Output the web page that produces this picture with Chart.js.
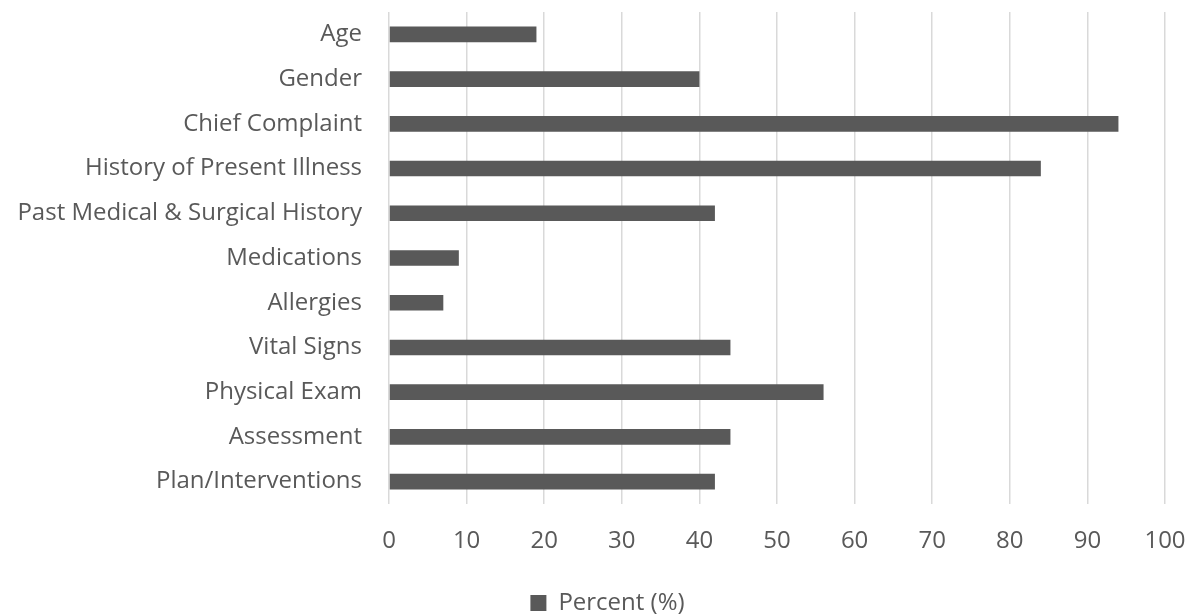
<!DOCTYPE html>
<html>
<head>
<meta charset="utf-8">
<script src="https://cdn.jsdelivr.net/npm/chart.js@4/dist/chart.umd.min.js"></script>
<style>
  html, body { margin: 0; padding: 0; background: #ffffff; overflow: hidden; }
  #wrap { width: 1192px; height: 616px; position: relative; }
</style>
</head>
<body>
<div id="wrap"><canvas id="chart" width="1192" height="616"></canvas></div>
<script>
// Documentation elements and the share of notes that included each one
const categories = [
  "Age",
  "Gender",
  "Chief Complaint",
  "History of Present Illness",
  "Past Medical & Surgical History",
  "Medications",
  "Allergies",
  "Vital Signs",
  "Physical Exam",
  "Assessment",
  "Plan/Interventions"
];
const percentValues = [19, 40, 94, 84, 42, 9, 7, 44, 56, 44, 42];
const seriesName = "Percent (%)";
const axisMin = 0;
const axisMax = 100;
const axisStep = 10;

const textColor = "#595959";
const barColor = "#595959";
const gridColor = "#d9d9d9";
const fontFamily = "'Open Sans', 'Noto Sans', sans-serif";
const fontSize = 24;

// Nudge the legend so it sits centred under the plot block rather than the canvas
const legendShift = {
  id: "legendShift",
  afterLayout(chart) {
    const lg = chart.legend;
    if (lg) {
      lg.left += 25;
      lg.right += 25;
    }
  }
};

new Chart(document.getElementById("chart"), {
  type: "bar",
  data: {
    labels: categories,
    datasets: [{
      label: seriesName,
      data: percentValues,
      backgroundColor: barColor,
      borderWidth: 0,
      barPercentage: 0.35,
      categoryPercentage: 1.0
    }]
  },
  plugins: [legendShift],
  options: {
    indexAxis: "y",
    responsive: false,
    animation: false,
    layout: { padding: { top: 12, right: 27, left: 0, bottom: -9 } },
    scales: {
      x: {
        min: axisMin,
        max: axisMax,
        ticks: {
          stepSize: axisStep,
          color: textColor,
          padding: 23,
          font: { family: fontFamily, size: fontSize }
        },
        grid: { color: gridColor, lineWidth: 1.5, drawTicks: false },
        border: { display: false },
        afterFit(scale) {
          scale.height = 77;
          scale.paddingLeft = 0;
          scale.paddingRight = 0;
        }
      },
      y: {
        ticks: {
          color: textColor,
          padding: 27,
          font: { family: fontFamily, size: fontSize }
        },
        grid: { display: false, drawTicks: false },
        border: { display: false },
        afterFit(scale) {
          scale.width = 389;
          scale.paddingTop = 0;
          scale.paddingBottom = 0;
        }
      }
    },
    plugins: {
      legend: {
        position: "bottom",
        labels: {
          color: textColor,
          boxWidth: 16,
          boxHeight: 16,
          padding: 10,
          font: { family: fontFamily, size: fontSize }
        }
      },
      tooltip: { enabled: false }
    }
  }
});
</script>
</body>
</html>
